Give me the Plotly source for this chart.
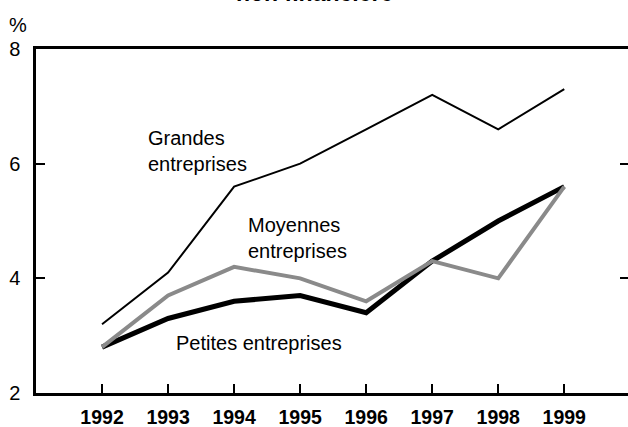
import plotly.graph_objects as go

# ---- data ----
years = [1992, 1993, 1994, 1995, 1996, 1997, 1998, 1999]
grandes = [3.2, 4.1, 5.6, 6.0, 6.6, 7.2, 6.6, 7.3]
moyennes = [2.8, 3.7, 4.2, 4.0, 3.6, 4.3, 4.0, 5.6]
petites = [2.8, 3.3, 3.6, 3.7, 3.4, 4.3, 5.0, 5.6]
y_ticks = [2, 4, 6, 8]
y_tick_labels = ["2", "4", "6", "8"]
right_ticks = [4, 6]

W, H = 628, 427
L, R, T, B = 36.3, 0, 49, 34
PW, PH = W - L - R, H - T - B

FONT = "Liberation Sans, Arial, sans-serif"
GRAY = "#8a8a8a"


def px_x(px):
    return (px - L) / PW


def px_y(py):
    return (H - B - py) / PH


fig = go.Figure()
fig.add_trace(go.Scatter(x=years, y=petites, mode="lines",
                         line=dict(color="black", width=5), name="Petites", hoverinfo="skip"))
fig.add_trace(go.Scatter(x=years, y=moyennes, mode="lines",
                         line=dict(color=GRAY, width=4), name="Moyennes", hoverinfo="skip"))
fig.add_trace(go.Scatter(x=years, y=grandes, mode="lines",
                         line=dict(color="black", width=2), name="Grandes", hoverinfo="skip"))
# carrier for right-hand tick axis
fig.add_trace(go.Scatter(x=[years[0]], y=[y_ticks[0]], mode="lines", yaxis="y2",
                         line=dict(width=0), showlegend=False, hoverinfo="skip"))

fig.update_layout(
    width=W, height=H,
    margin=dict(l=L, r=R, t=T, b=B, pad=0, autoexpand=False),
    paper_bgcolor="white", plot_bgcolor="white",
    showlegend=False,
    font=dict(family=FONT, size=20, color="black"),
    xaxis=dict(
        range=[1991, 1991 + PW / 66.0], automargin=False,
        tickvals=years, ticktext=[f"<b>{y}</b>" for y in years],
        ticks="inside", ticklen=9, tickwidth=2, tickcolor="black",
        showline=True, linewidth=2.5, linecolor="black", mirror=True,
        showgrid=False, zeroline=False,
        tickfont=dict(family=FONT, size=19.5, color="black"),
        ticklabelstandoff=5,
    ),
    yaxis=dict(
        range=[2, 8], automargin=False,
        tickvals=y_ticks, ticktext=y_tick_labels,
        ticks="inside", ticklen=9, tickwidth=2, tickcolor="black",
        showline=True, linewidth=2.5, linecolor="black",
        showgrid=False, zeroline=False,
        tickfont=dict(family=FONT, size=20, color="black"),
        ticklabelstandoff=9,
    ),
    yaxis2=dict(
        range=[2, 8], overlaying="y", side="right", automargin=False,
        tickvals=right_ticks, showticklabels=False,
        ticks="inside", ticklen=8, tickwidth=2, tickcolor="black",
        showline=False, showgrid=False, zeroline=False,
    ),
)

ann = [
    dict(text="<b>non financière</b>", x=px_x(315), y=px_y(8),
         xanchor="center", yanchor="bottom", font=dict(size=23)),
    dict(text="%", x=px_x(18.5), y=px_y(25), xanchor="center", yanchor="middle",
         font=dict(size=20)),
    dict(text="Grandes<br>entreprises", x=px_x(146), y=px_y(151),
         xanchor="left", yanchor="middle", align="left", font=dict(size=20)),
    dict(text="Moyennes<br>entreprises", x=px_x(246), y=px_y(238),
         xanchor="left", yanchor="middle", align="left", font=dict(size=20)),
    dict(text="Petites entreprises", x=px_x(174), y=px_y(343),
         xanchor="left", yanchor="middle", align="left", font=dict(size=20)),
]
for a in ann:
    a.update(xref="paper", yref="paper", showarrow=False)
    a["font"] = dict(family=FONT, color="black", **a["font"])
fig.update_layout(annotations=ann)

fig.write_html(
    "out.html",
    config={"displayModeBar": False},
    post_script="document.body.style.margin='0';document.body.style.overflow='hidden';",
)
